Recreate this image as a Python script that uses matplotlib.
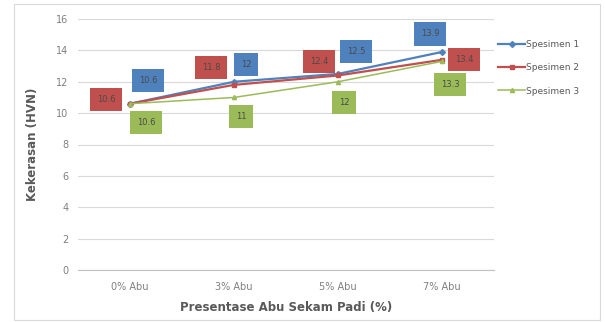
import matplotlib.pyplot as plt
import numpy as np
from matplotlib.patches import Rectangle

# data
categories = ["0% Abu", "3% Abu", "5% Abu", "7% Abu"]
spesimen1 = [10.6, 12.0, 12.5, 13.9]
spesimen2 = [10.6, 11.8, 12.4, 13.4]
spesimen3 = [10.6, 11.0, 12.0, 13.3]
series_names = ["Spesimen 1", "Spesimen 2", "Spesimen 3"]

colors = ["#4F81BD", "#C0504D", "#9BBB59"]
markers = ["D", "s", "^"]
# label box offsets in pixels (dx, dy up)
label_offsets = [
    [(18, 23), (12, 17), (18, 22), (-12, 18)],
    [(-24, 4), (-23, 17), (-19, 14), (22, 0)],
    [(16, -19), (7, -19), (6, -21), (8, -23)],
]

fig = plt.figure(figsize=(6.05, 3.22), dpi=100)
ax = fig.add_axes([78 / 605, 1 - 270 / 322, 416 / 605, 251 / 322])

x = np.arange(len(categories))
for vals, name, c, m, offs in zip([spesimen1, spesimen2, spesimen3], series_names, colors, markers, label_offsets):
    lw = 1.6 if name != "Spesimen 3" else 1.1
    ax.plot(x, vals, color=c, marker=m, markersize=3, lw=lw, label=name, zorder=3)
    for xi, v, (dx, dy) in zip(x, vals, offs):
        ax.annotate(f"{v:g}", (xi, v), xytext=(dx * 0.72, dy * 0.72), textcoords="offset points",
                    ha="center", va="center", fontsize=6, color="#4a4a4a", zorder=4,
                    bbox=dict(boxstyle="square,pad=0.85", fc=c, ec="none"))

ax.set_xlim(-0.5, 3.5)
ax.set_ylim(0, 16)
ax.set_yticks(np.arange(0, 17, 2))
ax.set_xticks(x)
ax.set_xticklabels(categories)
ax.grid(axis="y", color="#D9D9D9", lw=0.8)
ax.set_axisbelow(True)
for s in ["top", "right", "left"]:
    ax.spines[s].set_visible(False)
ax.spines["bottom"].set_color("#BFBFBF")
ax.tick_params(length=0, labelsize=7, colors="#7f7f7f")
ax.tick_params(axis="y", pad=7)
ax.tick_params(axis="x", pad=9)

ax.set_ylabel("Kekerasan (HVN)", fontsize=8.5, fontweight="bold", color="#595959", labelpad=12)
ax.set_xlabel("Presentase Abu Sekam Padi (%)", fontsize=8.5, fontweight="bold", color="#595959", labelpad=6)

leg = ax.legend(loc="upper left", bbox_to_anchor=(0.99, 0.95), frameon=False, fontsize=6.5,
                handlelength=3, handletextpad=0.1, labelspacing=1.6, labelcolor="#595959")

fig.patches.append(Rectangle((14 / 605, 2 / 322), 586 / 605, 316 / 322, transform=fig.transFigure,
                             fill=False, ec="#D9D9D9", lw=0.8))

fig.savefig("out.png", dpi=100)
